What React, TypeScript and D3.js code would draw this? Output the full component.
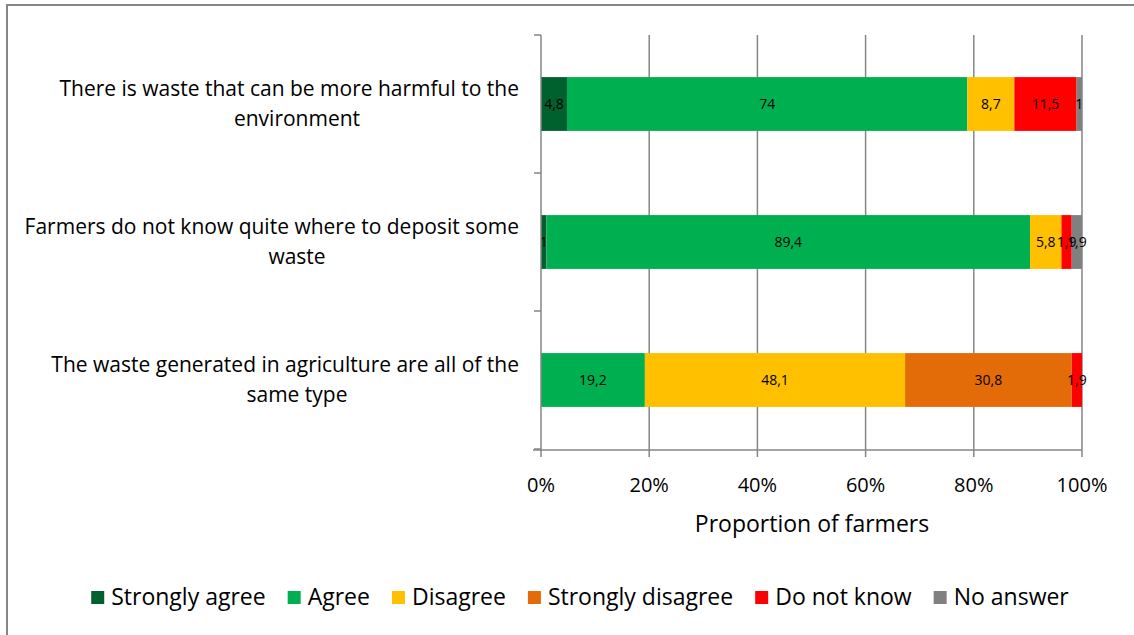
import React, { useEffect, useRef } from "react";
import * as d3 from "d3";

const categories = [
  "There is waste that can be more harmful to the environment",
  "Farmers do not know quite where to deposit some waste",
  "The waste generated in agriculture are all of the same type",
];
const seriesNames = ["Strongly agree", "Agree", "Disagree", "Strongly disagree", "Do not know", "No answer"];
const seriesColors = ["#00602E", "#00B050", "#FFC000", "#E36C09", "#FF0000", "#808080"];
const stronglyAgree = [4.8, 1, 0];
const agree = [74, 89.4, 19.2];
const disagree = [8.7, 5.8, 48.1];
const stronglyDisagree = [0, 0, 30.8];
const doNotKnow = [11.5, 1.9, 1.9];
const noAnswer = [1, 1.9, 0];
const xTicks = [0, 20, 40, 60, 80, 100];
const xTitle = "Proportion of farmers";

const W = 1134;
const H = 635;
const FONT = "'Open Sans', 'Liberation Sans', Arial, sans-serif";

export default function App() {
  const ref = useRef<SVGSVGElement>(null);
  useEffect(() => {
    const svg = d3.select(ref.current);
    svg.selectAll("*").remove();
    const values = [stronglyAgree, agree, disagree, stronglyDisagree, doNotKnow, noAnswer];
    const rows = categories.map((c, i) => {
      const r: any = { cat: c };
      seriesNames.forEach((s, j) => (r[s] = values[j][i]));
      return r;
    });
    const stacked = d3.stack().keys(seriesNames)(rows);

    const x = d3.scaleLinear().domain([0, 100]).range([541, 1082]);
    const y = d3.scaleBand().domain(categories).range([35, 449]).padding(0);
    const barH = y.bandwidth() * 0.39;

    // frame
    svg.append("rect").attr("x", 7).attr("y", 5).attr("width", W + 20).attr("height", H + 20)
      .attr("fill", "none").attr("stroke", "#868686").attr("stroke-width", 2);

    // gridlines
    svg.append("g").selectAll("line").data(xTicks.slice(1)).join("line")
      .attr("x1", (d) => x(d)).attr("x2", (d) => x(d)).attr("y1", 35).attr("y2", 457)
      .attr("stroke", "#868686").attr("stroke-width", 1.5);

    // bars
    const g = svg.append("g");
    stacked.forEach((layer, j) => {
      layer.forEach((seg, i) => {
        const v = seg[1] - seg[0];
        if (v <= 0) return;
        const cat = categories[i];
        const yc = (y(cat) as number) + y.bandwidth() / 2;
        g.append("rect").attr("x", x(seg[0])).attr("width", x(seg[1]) - x(seg[0]))
          .attr("y", yc - barH / 2).attr("height", barH).attr("fill", seriesColors[j]);
      });
    });
    stacked.forEach((layer, j) => {
      layer.forEach((seg, i) => {
        const v = seg[1] - seg[0];
        if (v <= 0) return;
        const cat = categories[i];
        const yc = (y(cat) as number) + y.bandwidth() / 2;
        g.append("text").attr("x", (x(seg[0]) + x(seg[1])) / 2).attr("y", yc)
          .attr("dy", "0.35em").attr("text-anchor", "middle").attr("font-family", FONT)
          .attr("font-size", 14).attr("fill", "#000").text(String(v.toFixed(1)).replace(/\.0$/, "").replace(".", ","));
      });
    });

    // axes lines
    svg.append("line").attr("x1", x(0)).attr("x2", x(0)).attr("y1", 35).attr("y2", 451)
      .attr("stroke", "#868686").attr("stroke-width", 1.5);
    svg.append("line").attr("x1", 533).attr("x2", x(100)).attr("y1", 450).attr("y2", 450)
      .attr("stroke", "#868686").attr("stroke-width", 1.5);
    svg.append("line").attr("x1", x(0)).attr("x2", x(0)).attr("y1", 450).attr("y2", 457)
      .attr("stroke", "#868686").attr("stroke-width", 1.5);
    const catTicks = [...categories.map((c) => y(c) as number), 449];
    svg.append("g").selectAll("line").data(catTicks).join("line")
      .attr("x1", 534).attr("x2", x(0)).attr("y1", (d) => d).attr("y2", (d) => d)
      .attr("stroke", "#868686").attr("stroke-width", 1.5);

    // x tick labels
    svg.append("g").selectAll("text").data(xTicks).join("text")
      .attr("x", (d) => x(d)).attr("y", 492).attr("text-anchor", "middle")
      .attr("font-family", FONT).attr("font-size", 20).attr("fill", "#000")
      .text((d) => d + "%");
    svg.append("text").attr("x", 812).attr("y", 532).attr("text-anchor", "middle")
      .attr("font-family", FONT).attr("font-size", 23).attr("fill", "#000").text(xTitle);

    // category labels: box centred at 297, width 444; wider lines overflow leftwards
    const rightEdge = 519;
    const boxW = 444;
    const boxC = rightEdge - boxW / 2;
    categories.forEach((c) => {
      const yc = (y(c) as number) + y.bandwidth() / 2;
      const t = svg.append("text").attr("text-anchor", "middle")
        .attr("font-family", FONT).attr("font-size", 21).attr("fill", "#000");
      const words = c.split(" ");
      const lines: string[] = [];
      let cur = "";
      const probe = t.append("tspan");
      const measure = (s: string) => {
        probe.text(s);
        return (probe.node() as SVGTSpanElement).getComputedTextLength();
      };
      words.forEach((w) => {
        const test = cur ? cur + " " + w : w;
        if (measure(test) > 500 && cur) {
          lines.push(cur);
          cur = w;
        } else cur = test;
      });
      lines.push(cur);
      const widths = lines.map((l) => measure(l));
      probe.remove();
      const lh = 30;
      lines.forEach((l, k) => {
        const w = widths[k];
        const lx = w > boxW ? rightEdge - w / 2 : boxC;
        t.append("tspan").attr("x", lx)
          .attr("y", yc + (k - (lines.length - 1) / 2) * lh).attr("dy", "0.35em").text(l);
      });
    });

    // legend
    const lg = svg.append("g");
    let cx = 0;
    const gap = 22;
    seriesNames.forEach((s, j) => {
      lg.append("rect").attr("x", cx).attr("y", -6).attr("width", 13).attr("height", 13).attr("fill", seriesColors[j]);
      const tx = lg.append("text").attr("x", cx + 20).attr("y", 0).attr("dy", "0.35em")
        .attr("font-family", FONT).attr("font-size", 23).attr("fill", "#000").text(s);
      cx += 20 + (tx.node() as SVGTextElement).getComputedTextLength() + gap;
    });
    const total = cx - gap;
    lg.attr("transform", `translate(${580 - total / 2},597)`);
  }, []);
  return (
    <svg ref={ref} width={W} height={H} style={{ position: "absolute", left: 0, top: 0, background: "#fff" }} />
  );
}
